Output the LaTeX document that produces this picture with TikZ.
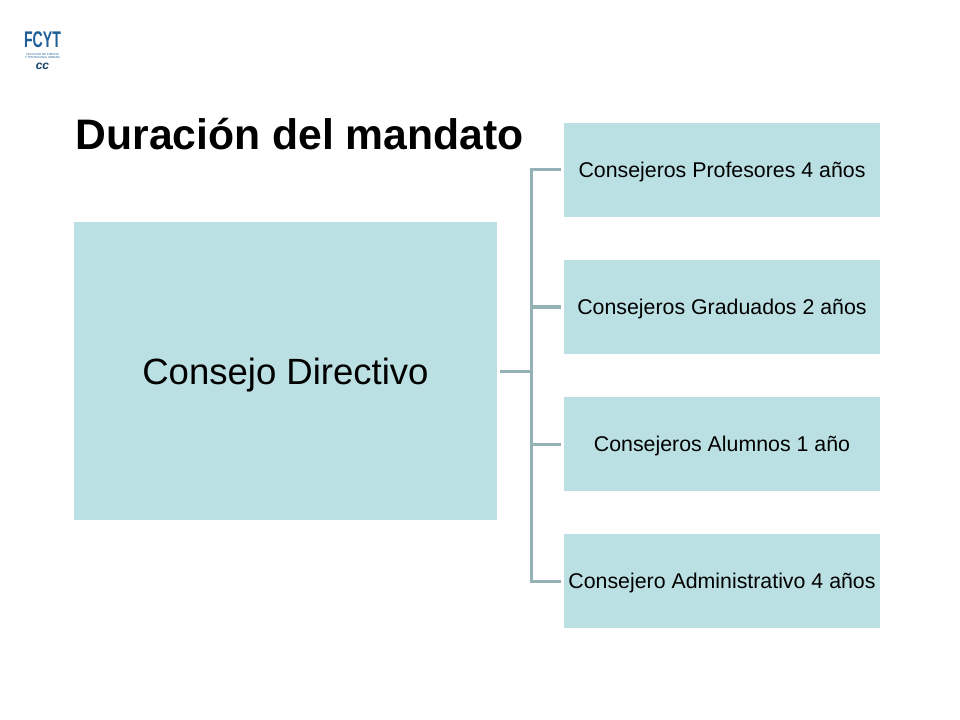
\documentclass[tikz,border=0pt]{standalone}
\usepackage{fontspec}
\setmainfont{Liberation Sans}
\usepackage{xcolor}
\usetikzlibrary{positioning}
\definecolor{boxfill}{HTML}{BBE0E3}
\definecolor{forkline}{HTML}{94B1B5}
\definecolor{logoblue}{HTML}{1F5F96}
\tikzset{
    mainbox/.style={fill=boxfill, inner sep=0pt, outer sep=2.25pt, text depth=0pt, minimum width=317.25pt, minimum height=223.5pt, font=\fontsize{27.4}{32}\selectfont},
    termbox/.style={fill=boxfill, inner sep=0pt, outer sep=2.25pt, text depth=0pt, minimum width=237pt, minimum height=70.5pt, font=\fontsize{16}{19}\selectfont},
    forkedge/.style={draw=forkline, line width=2.25pt}
}

\begin{document}
\begin{tikzpicture}[x=0.75pt, y=-0.75pt]
    \useasboundingbox (0, 0) rectangle (960, 720);
    \node[anchor=west, font=\fontsize{32}{38}\selectfont\bfseries] (title) at (71, 134) {Duración del mandato};

    % logo
    \node[font=\fontsize{20}{20}\selectfont\bfseries, text=logoblue, xscale=0.53, yscale=0.85, inner sep=0pt] (logo) at (42.5, 40) {FCYT};
    \node[below=3.5pt of logo, font=\fontsize{2.2}{2.8}\selectfont, text=logoblue, align=center, inner sep=0pt] (logotext) {FACULTAD DE CIENCIA\\Y TECNOLOGIA URBANA};
    \node[below=2.5pt of logotext, font=\fontsize{9}{9}\selectfont\bfseries\itshape, text=logoblue!70!black, inner sep=0pt] (logomark) {cc};

    \node[mainbox] (directivo) at (285.5, 371) {Consejo Directivo};
    \node[termbox] (profesores) at (722, 170) {Consejeros Profesores 4 años};
    \node[termbox, below=27.75pt of profesores] (graduados) {Consejeros Graduados 2 años};
    \node[termbox, below=27.75pt of graduados] (alumnos) {Consejeros Alumnos 1 año};
    \node[termbox, below=27.75pt of alumnos] (administrativo) {Consejero Administrativo 4 años};

    \coordinate (fork) at (531, 371);
    \draw[forkedge] (directivo.east) -- (fork);
    \draw[forkedge] (fork) |- (profesores.west);
    \draw[forkedge] (fork) |- (graduados.west);
    \draw[forkedge] (fork) |- (alumnos.west);
    \draw[forkedge] (fork) |- (administrativo.west);
\end{tikzpicture}
\end{document}
